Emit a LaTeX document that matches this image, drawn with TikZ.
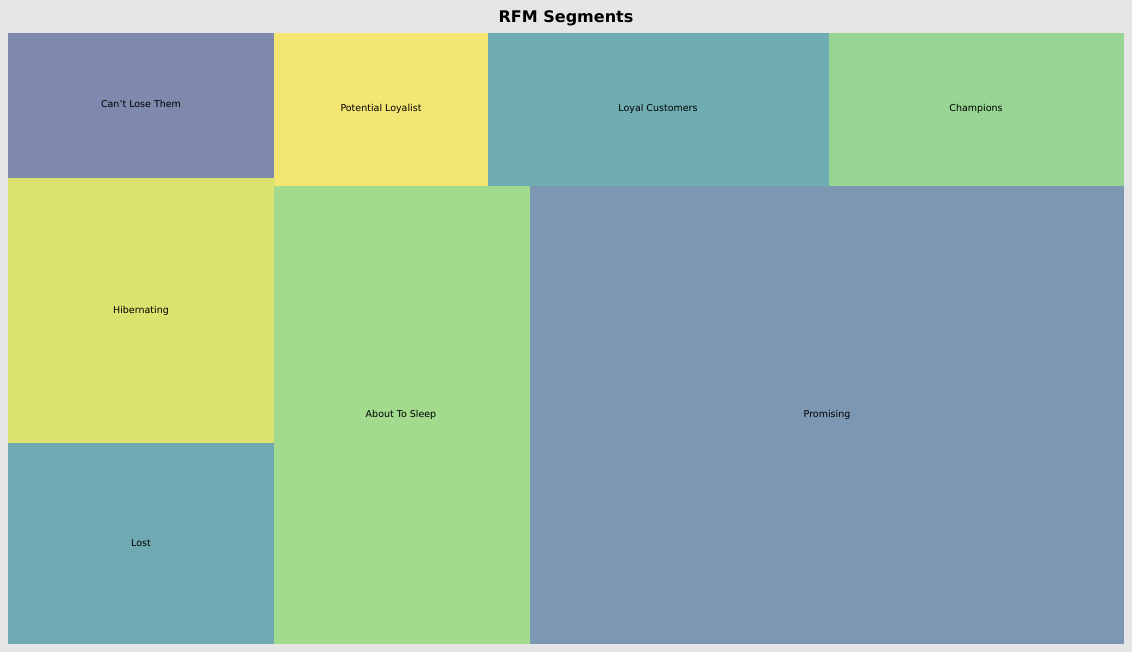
\documentclass[tikz,border=0pt]{standalone}
\usepackage{fontspec}
\setmainfont{DejaVu Sans}
\definecolor{bg}{HTML}{E5E5E5}
\definecolor{cA}{HTML}{7F88AD}
\definecolor{cB}{HTML}{DCE26E}
\definecolor{cC}{HTML}{71A9B3}
\definecolor{cD}{HTML}{F3E672}
\definecolor{cE}{HTML}{6FADB3}
\definecolor{cF}{HTML}{98D493}
\definecolor{cG}{HTML}{A2DA8E}
\definecolor{cH}{HTML}{7B97B2}
\begin{document}
\begin{tikzpicture}[x=1pt,y=-1pt,
  lab/.style={font=\fontsize{9.5}{11}\selectfont,text=black}]
\fill[bg] (0,0) rectangle (1132,652);
\useasboundingbox (0,0) rectangle (1132,652);
\node[font=\fontsize{16}{18}\selectfont\bfseries] (title) at (566,18) {RFM Segments};
\fill[cA] (8,33) rectangle (274,178);
\node[lab] (a) at (141,104) {Can’t Lose Them};
\fill[cB] (8,178) rectangle (274,443);
\node[lab] (b) at (141,311) {Hibernating};
\fill[cC] (8,443) rectangle (274,644);
\node[lab] (c) at (141,543) {Lost};
\fill[cD] (274,33) rectangle (488,186);
\node[lab] (d) at (381,109) {Potential Loyalist};
\fill[cE] (488,33) rectangle (829,186);
\node[lab] (e) at (658,109) {Loyal Customers};
\fill[cF] (829,33) rectangle (1124,186);
\node[lab] (f) at (976,109) {Champions};
\fill[cG] (274,186) rectangle (530,644);
\node[lab] (g) at (401,415) {About To Sleep};
\fill[cH] (530,186) rectangle (1124,644);
\node[lab] (h) at (827,415) {Promising};
\end{tikzpicture}
\end{document}
